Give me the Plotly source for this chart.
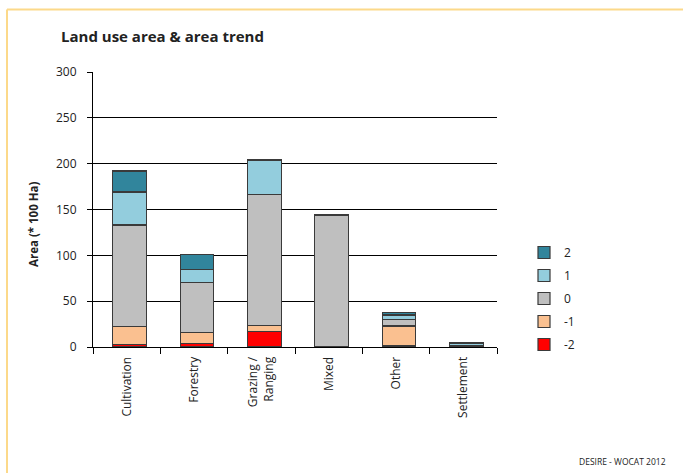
import plotly.graph_objects as go

# data (None = no segment)
land_uses = ["Cultivation", "Forestry", "Grazing /<br>Ranging", "Mixed", "Other", "Settlement"]
trend_m2 = [2.5, 4.0, 17.0, None, 1.0, None]
trend_m1 = [19.5, 11.5, 6.5, None, 22.0, None]
trend_0 = [111.0, 55.0, 143.0, 144.0, 7.0, 1.2]
trend_p1 = [36.0, 14.0, 37.5, None, 5.0, 2.8]
trend_p2 = [23.0, 16.5, None, None, 2.5, 1.0]

series = [
    ("-2", trend_m2, "#FF0000"),
    ("-1", trend_m1, "#FAC090"),
    ("0", trend_0, "#BFBFBF"),
    ("1", trend_p1, "#93CDDD"),
    ("2", trend_p2, "#31859C"),
]

FONT = "Open Sans"
W, H = 683, 473
L, R, T, B = 93, 186, 72, 126
pw, ph = W - L - R, H - T - B


def px(x):
    return (x - L) / pw


def py(y):
    return (H - B - y) / ph


fig = go.Figure()
for i, (name, vals, col) in enumerate(series):
    fig.add_trace(go.Bar(
        x=land_uses, y=vals, name=name, legendgroup=name,
        legendrank=len(series) - i,
        width=0.5, offset=-0.205,
        marker=dict(color=col, line=dict(color="#3a3a3a", width=1.2)),
    ))

fig.update_layout(
    width=W, height=H,
    barmode="stack",
    paper_bgcolor="white", plot_bgcolor="white",
    margin=dict(l=L, r=R, t=T, b=B),
    font=dict(family=FONT, size=12, color="#222"),
    showlegend=True,
    legend=dict(
        x=px(524), y=py(238), xanchor="left", yanchor="top",
        traceorder="grouped", tracegroupgap=4,
        font=dict(size=12, color="#222"),
    ),
    xaxis=dict(
        showline=True, linecolor="black", linewidth=1,
        ticks="outside", tickson="boundaries", ticklen=6, tickcolor="black",
        tickangle=-90, showgrid=False, ticklabelstandoff=4,
    ),
    yaxis=dict(
        range=[0, 300], dtick=50,
        showline=True, linecolor="black", linewidth=1,
        ticks="outside", ticklen=5, tickcolor="black",
        showgrid=True, gridcolor="black", gridwidth=1,
        zeroline=False, ticklabelstandoff=8,
    ),
    annotations=[
        dict(text="<b>Land use area & area trend</b>", x=px(59), y=py(36),
             xref="paper", yref="paper", xanchor="left", yanchor="middle",
             showarrow=False, font=dict(size=15, color="#222")),
        dict(text="<b>Area (* 100 Ha)</b>", x=px(33), y=py(225), textangle=-90,
             xref="paper", yref="paper", xanchor="center", yanchor="middle",
             showarrow=False, font=dict(size=11.5, color="#222")),
        dict(text="DESIRE - WOCAT 2012", x=px(668), y=py(461),
             xref="paper", yref="paper", xanchor="right", yanchor="middle",
             showarrow=False, font=dict(size=8.5, color="#222")),
    ],
    shapes=[
        dict(type="line", xref="paper", yref="paper", x0=px(7), x1=px(683),
             y0=py(9.5), y1=py(9.5), line=dict(color="#FCD98A", width=2)),
        dict(type="line", xref="paper", yref="paper", x0=px(7), x1=px(7),
             y0=py(9.5), y1=py(473), line=dict(color="#FCD98A", width=2)),
    ],
)

fig.write_html("out.html", config={"displayModeBar": False},
               post_script="document.body.style.margin='0';")
